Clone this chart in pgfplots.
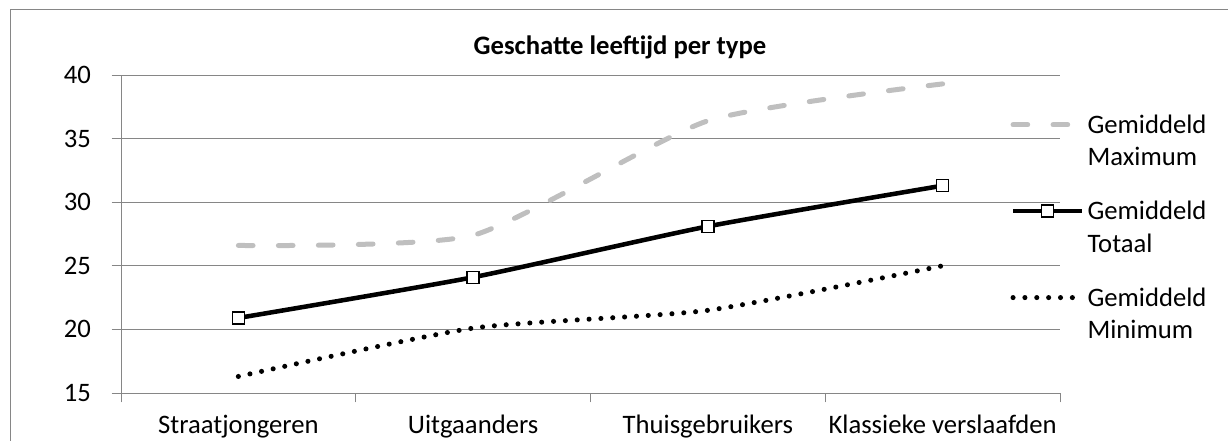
\documentclass[border=0pt]{standalone}
\usepackage{pgfplots}
\pgfplotsset{compat=1.18}
\usepackage{fontspec}
\setmainfont{Carlito}
\definecolor{gridc}{RGB}{134,134,134}
\definecolor{maxc}{RGB}{191,191,191}
\newcommand{\chartfont}{\fontsize{20pt}{24.4pt}\selectfont}
\begin{document}
\begin{tikzpicture}
\begin{axis}[
  at={(90.75pt,35.25pt)}, anchor=south west,
  scale only axis, width=704.25pt, height=238.5pt,
  xmin=0.5, xmax=4.5, ymin=15, ymax=40,
  axis x line*=bottom, axis y line*=left,
  axis line style={gridc, line width=0.75pt, -},
  ytick={15,20,...,40},
  ymajorgrids, grid style={gridc, line width=0.75pt},
  xtick={0.5,1.5,2.5,3.5,4.5}, xticklabels={},
  extra x ticks={1,2,3,4},
  extra x tick labels={Straatjongeren,Uitgaanders,Thuisgebruikers,Klassieke verslaafden},
  extra x tick style={major tick length=0pt, grid=none},
  tick align=outside, major tick length=7pt,
  tick style={gridc, line width=0.75pt},
  tick label style={font=\chartfont},
  /pgf/number format/assume math mode=true,
  xticklabel style={yshift=-13pt},
  yticklabel style={xshift=-12pt},
  legend style={draw=none, fill=none, inner sep=0pt, at={(0.947,0.884)}, anchor=north west,
    font=\chartfont, cells={anchor=west, align=left}, row sep=21pt},
  legend image code/.code={%
    \pgfpathmoveto{\pgfpoint{0pt}{-12.4pt}}\pgfpathlineto{\pgfpoint{52pt}{-12.4pt}}\pgfusepath{}%
    \draw[mark repeat=2,mark phase=2,#1] plot coordinates {(0pt,12.4pt) (26pt,12.4pt) (52pt,12.4pt)};},
  clip=false,
]
\addplot[maxc, line width=3.75pt, line cap=round, dash pattern=on 11pt off 19pt, smooth, tension=0.35] coordinates {(1,26.6) (2,27.4) (3,36.4) (4,39.3)};
\addlegendentry{Gemiddeld\\Maximum}
\addplot[black, line width=3.4pt, smooth, tension=0.35, mark=square*, mark size=4.5pt,
  mark options={fill=white, draw=black, line width=1.1pt, solid}] coordinates {(1,20.9) (2,24.1) (3,28.1) (4,31.3)};
\addlegendentry{Gemiddeld\\Totaal}
\addplot[black, line width=3.8pt, line cap=round, dash pattern=on 0pt off 8.9pt, smooth, tension=0.35] coordinates {(1,16.3) (2,20.1) (3,21.5) (4,25.0)};
\addlegendentry{Gemiddeld\\Minimum}
\end{axis}
\node[font=\chartfont\bfseries, anchor=base] at (465pt,289pt) {Geschatte leeftijd per type};
\draw[gridc, line width=0.75pt] (7.5pt,-20pt) rectangle (940pt,322.5pt);
\pgfresetboundingbox
\useasboundingbox (0pt,0pt) rectangle (921pt,330pt);
\end{tikzpicture}
\end{document}
